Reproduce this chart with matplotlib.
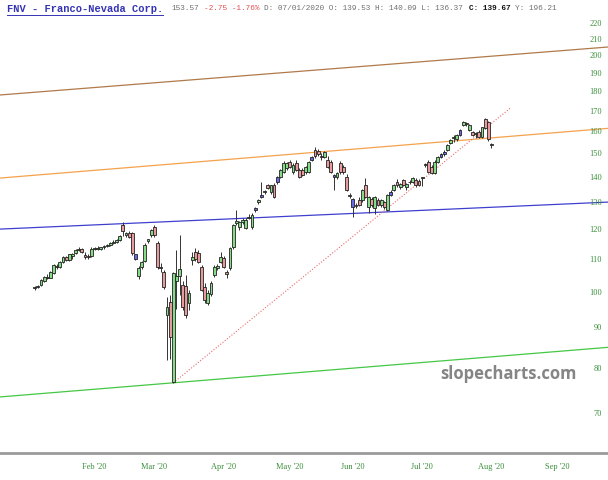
import numpy as np
import pandas as pd
import matplotlib
matplotlib.use("Agg")
import matplotlib.pyplot as plt
from matplotlib.lines import Line2D

# trading calendar (NYSE holidays removed)
holidays = ["2019-12-25", "2020-01-01", "2020-01-20", "2020-02-17", "2020-04-10",
            "2020-05-25", "2020-07-03", "2020-09-07"]
cal = pd.bdate_range("2019-12-02", "2020-10-30")
cal = cal[~cal.isin(pd.to_datetime(holidays))]
dates = cal[(cal >= "2020-01-06") & (cal <= "2020-08-03")]
origin = cal.get_loc(dates[0])


def pos(d):
    return cal.get_loc(pd.Timestamp(d)) - origin


# daily OHLC, FNV Jan 6 - Aug 3 2020
opens = [101.0, 101.3, 101.8, 103.2, 104.2, 104.1, 105.6, 107.9, 107.6, 109.0,
         110.6, 109.7, 111.0, 111.9, 113.0, 113.2, 111.4, 110.8, 111.0, 113.3,
         113.6, 113.3, 113.8, 114.3, 114.7, 115.4, 115.8, 116.4, 121.4, 118.0,
         118.9, 118.6, 110.0, 104.6, 107.5, 109.3, 116.0, 117.9, 120.8, 115.2,
         107.6, 105.8, 93.3, 96.9, 76.8, 103.0, 104.6, 101.9, 101.5, 96.6,
         109.7, 112.3, 112.0, 107.5, 101.3, 96.8, 99.2, 105.0, 107.3, 109.0,
         110.3, 105.8, 107.0, 113.8, 122.3, 120.8, 122.7, 120.6, 124.1, 120.8,
         127.1, 130.0, 132.0, 133.9, 136.5, 134.0, 136.7, 137.9, 140.0, 142.0,
         143.8, 146.3, 142.0, 146.0, 142.9, 142.9, 142.0, 142.0, 147.1, 151.5,
         151.0, 148.6, 148.4, 147.1, 146.3, 140.0, 140.0, 146.0, 144.1, 140.0,
         132.7, 128.3, 128.9, 130.8, 130.8, 136.7, 128.1, 131.0, 127.6, 130.8,
         128.9, 130.0, 127.0, 132.7, 134.7, 137.9, 135.9, 138.7, 135.9, 137.7,
         137.9, 138.7, 138.5, 139.53, 145.0, 146.3, 144.1, 141.6, 146.3, 148.4,
         149.6, 151.5, 154.5, 157.0, 156.5, 158.3, 163.0, 163.8, 160.6, 159.7,
         158.6, 159.7, 157.3, 165.8, 164.4, 154.0]
highs = [101.6, 102.0, 103.6, 104.6, 105.2, 106.1, 108.3, 108.4, 109.3, 110.9,
         111.0, 111.8, 112.0, 113.2, 113.9, 113.5, 112.2, 111.6, 113.8, 114.0,
         114.2, 114.1, 114.7, 115.0, 115.8, 116.2, 116.7, 118.2, 122.8, 119.2,
         119.3, 119.0, 111.0, 107.8, 109.5, 115.2, 116.8, 120.0, 121.6, 116.0,
         108.6, 106.4, 98.4, 99.0, 106.0, 112.8, 118.2, 103.0, 105.0, 100.5,
         112.2, 113.5, 113.0, 108.2, 102.6, 100.4, 103.0, 108.0, 108.4, 112.3,
         110.9, 106.4, 114.0, 122.0, 127.0, 123.0, 124.2, 124.0, 125.5, 125.8,
         128.0, 131.0, 137.9, 134.7, 137.2, 136.8, 137.5, 140.5, 143.2, 146.8,
         146.2, 147.2, 145.6, 146.9, 143.6, 143.5, 144.5, 146.7, 148.8, 152.6,
         152.0, 150.0, 151.2, 149.0, 147.0, 141.0, 142.0, 146.8, 145.0, 141.0,
         133.5, 131.6, 129.6, 131.8, 135.2, 139.5, 132.5, 131.8, 132.4, 131.4,
         131.2, 130.5, 133.0, 134.6, 137.2, 139.0, 137.5, 139.3, 137.3, 138.6,
         139.8, 139.6, 139.2, 140.09, 146.0, 147.2, 145.0, 146.9, 149.0, 150.3,
         151.3, 154.1, 156.4, 158.5, 158.6, 161.0, 165.0, 164.6, 163.4, 160.2,
         159.7, 160.4, 162.2, 166.4, 165.0, 154.6]
lows = [100.5, 100.9, 101.5, 102.9, 103.6, 103.9, 105.3, 106.9, 107.3, 108.7,
        109.3, 109.4, 109.9, 111.6, 112.6, 112.0, 110.0, 110.0, 110.7, 112.8,
        112.9, 112.9, 113.3, 113.8, 114.3, 115.0, 115.3, 116.0, 117.6, 117.2,
        117.0, 111.3, 109.6, 103.8, 106.9, 109.0, 115.2, 117.4, 117.5, 106.9,
        106.0, 100.6, 81.8, 82.0, 76.5, 95.0, 99.0, 94.8, 92.5, 94.8,
        108.0, 109.5, 108.6, 100.2, 96.8, 96.0, 98.6, 104.3, 106.4, 108.6,
        107.0, 104.0, 106.5, 113.2, 121.6, 119.8, 122.0, 120.0, 123.8, 120.0,
        126.4, 129.3, 131.6, 133.0, 134.9, 133.3, 131.6, 137.0, 139.6, 141.5,
        142.9, 143.5, 141.3, 142.4, 139.4, 140.2, 141.3, 141.6, 146.5, 148.0,
        149.0, 147.0, 147.9, 143.8, 141.6, 134.7, 139.3, 141.3, 141.3, 134.2,
        131.6, 124.4, 127.6, 128.4, 130.2, 131.5, 126.0, 128.2, 125.6, 128.4,
        128.3, 127.4, 126.6, 132.2, 134.2, 136.0, 135.2, 136.3, 134.8, 136.9,
        137.5, 136.0, 136.2, 136.37, 143.9, 141.5, 141.0, 141.0, 145.8, 148.0,
        149.0, 151.0, 154.0, 155.2, 155.5, 157.8, 162.5, 162.6, 160.2, 157.8,
        156.8, 156.9, 156.8, 161.0, 155.6, 152.2]
closes = [101.3, 101.6, 103.3, 104.3, 104.0, 105.9, 108.0, 107.5, 109.0, 110.5,
          109.6, 111.5, 111.7, 113.0, 113.4, 112.4, 110.6, 110.7, 113.4, 113.6,
          113.2, 113.9, 114.3, 114.6, 115.4, 115.7, 116.4, 117.8, 119.3, 118.7,
          117.4, 112.0, 111.5, 107.2, 109.0, 114.6, 116.5, 119.7, 118.0, 107.5,
          107.2, 101.3, 95.5, 87.5, 105.5, 104.6, 106.8, 95.5, 93.3, 99.7,
          110.6, 110.0, 109.2, 100.5, 97.5, 99.6, 102.6, 107.5, 107.7, 110.6,
          107.5, 105.3, 113.6, 121.5, 123.0, 122.6, 123.5, 123.3, 124.4, 125.2,
          127.6, 130.8, 132.7, 134.2, 135.3, 136.5, 132.0, 140.0, 142.8, 146.0,
          145.8, 144.1, 145.0, 142.9, 140.0, 140.8, 144.1, 146.3, 148.4, 148.7,
          149.6, 148.4, 150.6, 144.3, 142.0, 140.8, 141.6, 141.8, 142.0, 134.7,
          132.2, 131.1, 128.5, 128.9, 134.7, 132.0, 132.0, 128.9, 131.8, 128.9,
          130.8, 128.1, 132.7, 133.9, 136.7, 136.7, 137.2, 136.8, 136.9, 137.9,
          139.4, 136.7, 136.8, 139.67, 145.3, 142.0, 141.6, 146.3, 148.4, 149.6,
          150.8, 153.7, 156.0, 157.3, 158.3, 160.6, 164.4, 163.6, 163.0, 158.3,
          159.2, 157.3, 161.9, 161.5, 156.32, 153.57]
# candles the site shows in blue
blue_days = ["2020-02-21", "2020-04-16", "2020-04-20", "2020-04-27", "2020-05-12",
             "2020-05-21", "2020-06-01", "2020-06-17", "2020-07-10", "2020-07-13",
             "2020-07-20"]

# drawn trend lines: start date, start price, end date, end price
trend_lines = [
    ("2019-12-18", 178.0, "2020-09-24", 204.9, "#b07a4a"),
    ("2019-12-18", 139.5, "2020-09-24", 161.4, "#f5a24c"),
    ("2019-12-18", 120.1, "2020-09-24", 130.0, "#3f3fcf"),
    ("2019-12-18", 73.4, "2020-09-24", 84.9, "#45c845"),
]
ray = ("2020-03-10", 76.5, "2020-08-11", 171.3)

months = ["2020-02", "2020-03", "2020-04", "2020-05", "2020-06", "2020-07", "2020-08", "2020-09"]
yticks = [70, 80, 90, 100, 110, 120, 130, 140, 150, 160, 170, 180, 190, 200, 210, 220]

o = np.array(opens)
h = np.array(highs)
l = np.array(lows)
c = np.array(closes)
x = np.arange(len(dates))

fig = plt.figure(figsize=(6.08, 4.8), dpi=100)
ax = fig.add_axes([0, 27 / 480, 1, 453 / 480])
ax.set_yscale("log")

for d0, p0, d1, p1, col in trend_lines:
    ax.plot([pos(d0), pos(d1)], [p0, p1], color=col, lw=0.9, zorder=1)
ax.plot([pos(ray[0]), pos(ray[2])], [ray[1], ray[3]], color="#e86a6a",
        lw=0.8, ls=(0, (1, 1.6)), zorder=1)

# candles
colors = np.where(c >= o, "#86dc86", "#e69c9c").astype(object)
for d in blue_days:
    colors[pos(d)] = "#6a6ae8"
ax.vlines(x, l, h, color="#333333", lw=0.7, zorder=2)
body = np.maximum(np.abs(c - o), 0.3)
ax.bar(x, body, bottom=np.minimum(o, c), width=0.9, color=list(colors),
       edgecolor="#222222", linewidth=0.6, zorder=3)

ax.set_xlim(-11.0, 182.0)
ax.set_ylim(62.27, 235.2)

# axis styling
for s in ["top", "left", "right"]:
    ax.spines[s].set_visible(False)
ax.spines["bottom"].set_color("#9a9a9a")
ax.spines["bottom"].set_linewidth(2)

tick_font = dict(family="Liberation Serif", size=6)
month_first = [cal[cal.strftime("%Y-%m") == m][0] for m in months]
ax.set_xticks([pos(d) for d in month_first])
ax.set_xticklabels([d.strftime("%b '%y") for d in month_first], color="#3b8f3b", **tick_font)
ax.tick_params(axis="x", length=0, pad=7)

ax.yaxis.tick_right()
ax.set_yticks(yticks)
ax.yaxis.set_minor_locator(matplotlib.ticker.NullLocator())
ax.set_yticklabels([str(v) for v in yticks], color="#3b8f3b", **tick_font)
for lbl in ax.get_yticklabels():
    lbl.set_horizontalalignment("right")
ax.tick_params(axis="y", length=0, pad=-4.3)

# header line
mono = "Liberation Mono"
fig.text(7 / 608, 1 - 9 / 480, "FNV - Franco-Nevada Corp.", family=mono, size=7.5,
         weight="bold", color="#3434b4", va="center")
fig.add_artist(Line2D([7 / 608, 163 / 608], [1 - 15 / 480, 1 - 15 / 480],
                      color="#3434b4", lw=0.7))
cw = 4.65
x0 = 171
parts = [(0, "153.57", "#707070", "normal"),
         (7, "-2.75 -1.76%", "#e05050", "normal"),
         (20, "D: 07/01/2020 O: 139.53 H: 140.09 L: 136.37", "#707070", "normal"),
         (64, "C: 139.67", "#111111", "bold"),
         (74, "Y: 196.21", "#707070", "normal")]
for k, txt, col, wt in parts:
    fig.text((x0 + k * cw) / 608, 1 - 9 / 480, txt, family=mono, size=5.55,
             color=col, weight=wt, va="center")

# watermark
fig.text(440 / 608, 1 - 379 / 480, "slopecharts.com", family="Open Sans", weight="bold",
         size=12, color="#858585", va="baseline", ha="left")

fig.savefig("out.png", dpi=100)
